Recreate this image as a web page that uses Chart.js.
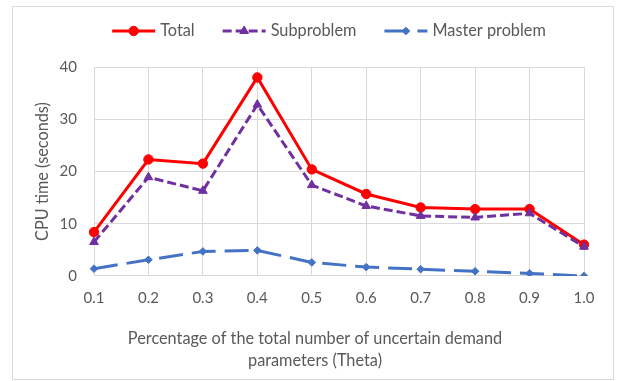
<!DOCTYPE html>
<html>
<head>
<meta charset="utf-8">
<script src="https://cdn.jsdelivr.net/npm/chart.js@4.4.1/dist/chart.umd.min.js"></script>
<style>
html,body{margin:0;padding:0;background:#fff;overflow:hidden}
#wrap{position:relative;width:618px;height:381px}
canvas{display:block}
</style>
</head>
<body>
<div id="wrap"><canvas id="c" width="618" height="381"></canvas></div>
<script>
// ---- data ----
const categories = ['0.1','0.2','0.3','0.4','0.5','0.6','0.7','0.8','0.9','1.0'];
const totalTime      = [8.4, 22.3, 21.5, 38.0, 20.4, 15.7, 13.1, 12.8, 12.8, 6.0];
const subproblemTime = [6.5, 18.9, 16.3, 32.8, 17.4, 13.4, 11.5, 11.2, 12.0, 5.6];
const masterTime     = [1.4, 3.1, 4.7, 4.9, 2.6, 1.7, 1.3, 0.9, 0.5, 0.0];
const seriesNames = ['Total', 'Subproblem', 'Master problem'];
const yMin = 0, yMax = 40, yStep = 10;
const xTitle = ['Percentage of the total number of uncertain demand', 'parameters (Theta)'];
const yTitle = 'CPU time (seconds)';

const FONT = 'Lato';
const FS_TEXT = 16.3;
const FS_TICK = 15;
const TEXT = '#595959';
const GRID = '#d9d9d9';

const frame = {
  id: 'frame',
  beforeDraw(chart) {
    const ctx = chart.ctx;
    ctx.save();
    ctx.fillStyle = '#fff';
    ctx.fillRect(0, 0, chart.width, chart.height);
    ctx.strokeStyle = GRID;
    ctx.lineWidth = 1;
    ctx.strokeRect(12.5, 6.5, 601, 373);
    ctx.restore();
  }
};

const excelLegend = {
  id: 'excelLegend',
  afterDraw(chart, args, opts) {
    const ctx = chart.ctx;
    ctx.save();
    ctx.font = FS_TEXT + 'px ' + FONT;
    const lineW = 43, gapText = 5, gapItem = 28;
    const items = chart.data.datasets.map(ds => ({ds, w: ctx.measureText(ds.label).width}));
    const total = items.reduce((s, i) => s + lineW + gapText + i.w, 0) + gapItem * (items.length - 1);
    let x = opts.centerX - total / 2;
    const y = opts.y;
    items.forEach(({ds, w}) => {
      ctx.save();
      ctx.strokeStyle = ds.borderColor;
      ctx.lineWidth = ds.borderWidth;
      ctx.setLineDash(ds.borderDash || []);
      ctx.beginPath();
      ctx.moveTo(x, y);
      ctx.lineTo(x + lineW, y);
      ctx.stroke();
      ctx.restore();
      ctx.save();
      ctx.fillStyle = ds.pointBackgroundColor;
      ctx.strokeStyle = ds.pointBorderColor;
      ctx.lineWidth = 1;
      Chart.helpers.drawPoint(ctx, {pointStyle: ds.pointStyle, radius: ds.pointRadius, borderWidth: 1, rotation: 0}, x + lineW / 2, y);
      ctx.restore();
      ctx.fillStyle = TEXT;
      ctx.textBaseline = 'middle';
      ctx.textAlign = 'left';
      ctx.fillText(ds.label, x + lineW + gapText, y);
      x += lineW + gapText + w + gapItem;
    });
    ctx.restore();
  }
};

const mk = (label, data, color, style, radius, dash, order) => ({
  label, data, order,
  borderColor: color,
  backgroundColor: color,
  borderWidth: 3,
  borderDash: dash,
  pointStyle: style,
  pointRadius: radius,
  pointBackgroundColor: color,
  pointBorderColor: color,
  pointBorderWidth: 1,
  tension: 0,
  fill: false
});

Chart.defaults.font.family = FONT;
Chart.defaults.font.size = FS_TICK;
Chart.defaults.color = TEXT;

new Chart(document.getElementById('c'), {
  type: 'line',
  data: {
    labels: categories,
    datasets: [
      mk(seriesNames[0], totalTime, '#ff0000', 'circle', 4.7, [], 2),
      mk(seriesNames[1], subproblemTime, '#7030a0', 'triangle', 5, [9, 4], 1),
      mk(seriesNames[2], masterTime, '#4472c4', 'rectRot', 3.8, [24, 9], 0)
    ]
  },
  options: {
    responsive: false,
    animation: false,
    devicePixelRatio: 1,
    layout: {padding: {top: 67, left: 12, right: 0, bottom: 0}},
    plugins: {
      legend: {display: false},
      tooltip: {enabled: false},
      excelLegend: {centerX: 329, y: 31},
      title: {
        display: true, position: 'bottom', align: 'center',
        text: xTitle, color: TEXT,
        font: {size: FS_TEXT, weight: 'normal', lineHeight: 1.35},
        padding: {top: 0, bottom: 9}
      }
    },
    scales: {
      x: {
        type: 'category',
        offset: false,
        grid: {color: GRID, lineWidth: 1, drawTicks: false},
        border: {color: GRID},
        ticks: {padding: 13, color: TEXT, maxRotation: 0, autoSkip: false, font: {size: FS_TICK}},
        title: {display: false},
        afterFit(s) { s.height = 52; s.paddingRight = 34; }
      },
      y: {
        min: yMin, max: yMax,
        grid: {color: GRID, lineWidth: 1, drawTicks: false},
        border: {display: false},
        ticks: {stepSize: yStep, padding: 17, color: TEXT, font: {size: FS_TICK}},
        title: {display: true, text: yTitle, color: TEXT, font: {size: FS_TEXT, lineHeight: 1.1}, padding: {top: 22, bottom: 0}},
        afterFit(s) { s.width = 82; }
      }
    }
  },
  plugins: [frame, excelLegend]
});
</script>
</body>
</html>
